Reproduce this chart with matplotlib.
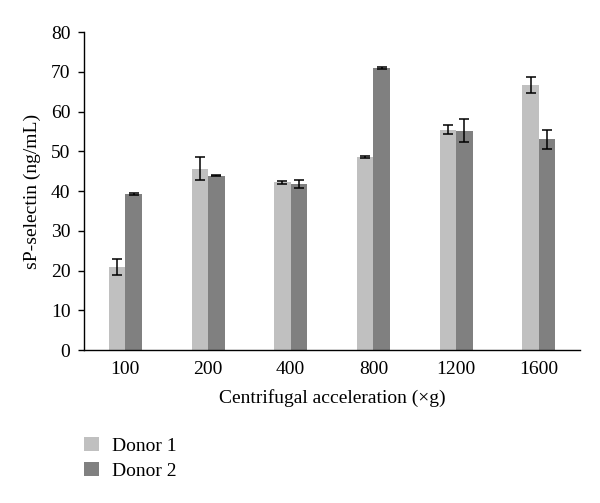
import matplotlib
matplotlib.use("Agg")
import matplotlib.pyplot as plt
import numpy as np

categories = ["100", "200", "400", "800", "1200", "1600"]
donor1 = [21.0, 45.6, 42.2, 48.6, 55.5, 66.7]
donor1_err = [2.0, 2.9, 0.4, 0.15, 1.05, 1.9]
donor2 = [39.3, 43.9, 41.8, 71.0, 55.2, 53.1]
donor2_err = [0.2, 0.15, 1.0, 0.15, 2.9, 2.4]

plt.rcParams['font.family'] = ['Liberation Serif', 'DejaVu Serif']
plt.rcParams['font.size'] = 14

fig = plt.figure(figsize=(6.0, 5.03), dpi=100)
ax = fig.add_axes([0.14, 0.304, 0.827, 0.632])

x = np.arange(len(categories))
w = 0.2
ekw = dict(ecolor="black", capsize=3.5, elinewidth=1.1, capthick=1.1)
ax.bar(x - w/2, donor1, w, color="#c0c0c0", label="Donor 1", yerr=donor1_err, error_kw=ekw)
ax.bar(x + w/2, donor2, w, color="#808080", label="Donor 2", yerr=donor2_err, error_kw=ekw)

ax.set_xlim(-0.5, len(categories) - 0.5)
ax.set_ylim(0, 80)
ax.set_yticks(range(0, 81, 10))
ax.set_xticks(x)
ax.set_xticklabels(categories)
ax.tick_params(axis='x', length=0, pad=8)
ax.tick_params(axis='y', direction='out', length=4.3, width=1, pad=5.5)
for s in ['top', 'right']:
    ax.spines[s].set_visible(False)
ax.spines['left'].set_linewidth(1)
ax.spines['bottom'].set_linewidth(1)

ax.set_xlabel("Centrifugal acceleration (×g)", labelpad=8)
ax.set_ylabel("sP-selectin (ng/mL)", labelpad=7)

fig.legend(loc='upper left', bbox_to_anchor=(0.14, 0.131), frameon=False,
           handlelength=0.75, handleheight=0.75, handletextpad=0.7, labelspacing=0.34,
           borderaxespad=0, borderpad=0)

fig.savefig("out.png", dpi=100)
